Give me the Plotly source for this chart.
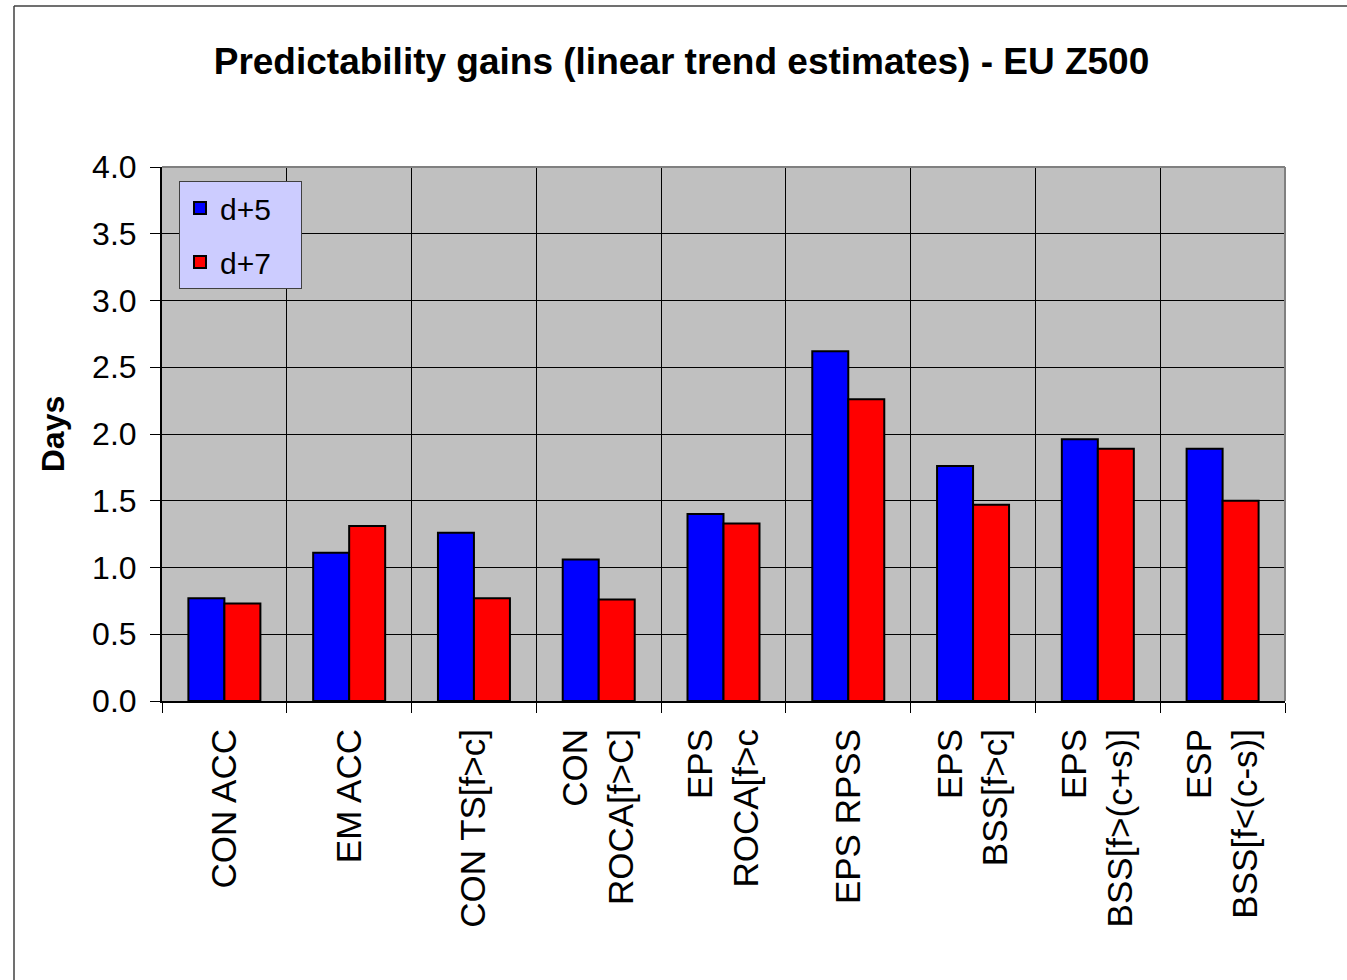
import plotly.graph_objects as go

categories = [
    "CON ACC",
    "EM ACC",
    "CON TS[f&gt;c]",
    "CON<br>ROCA[f&gt;C]",
    "EPS<br>ROCA[f&gt;c",
    "EPS RPSS",
    "EPS<br>BSS[f&gt;c]",
    "EPS<br>BSS[f&gt;(c+s)]",
    "ESP<br>BSS[f&lt;(c-s)]",
]
d5_values = [0.77, 1.11, 1.26, 1.06, 1.40, 2.62, 1.76, 1.96, 1.89]
d7_values = [0.73, 1.31, 0.77, 0.76, 1.33, 2.26, 1.47, 1.89, 1.50]
y_ticks = [0.0, 0.5, 1.0, 1.5, 2.0, 2.5, 3.0, 3.5, 4.0]

FONT = "Liberation Sans, Arial, sans-serif"

W, H = 1347, 980
L, R, T, B = 162, 62, 167, 279
pw, ph = W - L - R, H - T - B


def sx(px):
    """screen x pixel -> paper fraction"""
    return (px - L) / pw


def sy(py):
    """screen y pixel -> paper fraction"""
    return (H - B - py) / ph


fig = go.Figure()
fig.add_trace(go.Bar(name="d+5&nbsp;&nbsp;&nbsp;", x=categories, y=d5_values, legendgroup="a",
                     marker=dict(color="#0000FF", line=dict(color="black", width=2))))
fig.add_trace(go.Bar(name="d+7&nbsp;&nbsp;&nbsp;", x=categories, y=d7_values, legendgroup="b",
                     marker=dict(color="#FF0000", line=dict(color="black", width=2))))

fig.update_layout(
    width=W, height=H,
    margin=dict(l=L, r=R, t=T, b=B, autoexpand=False),
    paper_bgcolor="white",
    plot_bgcolor="#C0C0C0",
    barmode="group",
    bargap=0.423,
    bargroupgap=0,
    font=dict(family=FONT, color="black"),
    title=dict(
        text="<b>Predictability gains (linear trend estimates) - EU Z500</b>",
        x=681.5 / W, xref="container", xanchor="center",
        y=1 - 61 / H, yref="container", yanchor="middle",
        font=dict(size=37, family=FONT, color="black"),
    ),
    legend=dict(
        x=sx(179), y=sy(181),
        xanchor="left", yanchor="top",
        bgcolor="#CCCCFF", bordercolor="#404040", borderwidth=1,
        font=dict(size=30, family=FONT, color="black"),
        itemwidth=30,
        tracegroupgap=12,
    ),
    xaxis=dict(
        type="category",
        tickson="boundaries",
        ticks="outside", ticklen=10, tickcolor="black", tickwidth=1,
        showgrid=True, gridcolor="black", gridwidth=1,
        showline=True, linecolor="black", linewidth=2,
        tickangle=-90,
        tickfont=dict(size=35, family=FONT, color="black"),
        ticklabelstandoff=12,
        automargin=False,
    ),
    yaxis=dict(
        range=[0, 4],
        tickvals=y_ticks,
        tickformat=".1f",
        ticks="outside", ticklen=10, tickcolor="black", tickwidth=1,
        showgrid=True, gridcolor="black", gridwidth=1,
        zeroline=False,
        showline=True, linecolor="black", linewidth=2,
        tickfont=dict(size=32, family=FONT, color="black"),
        ticklabelstandoff=7,
        title=dict(text="<b>Days</b>", font=dict(size=32, family=FONT, color="black"), standoff=18),
        automargin=False,
    ),
    shapes=[
        # gray plot-area border (top and right)
        dict(type="line", xref="paper", yref="paper", x0=0, x1=1, y0=1, y1=1,
             line=dict(color="#808080", width=2), layer="above"),
        dict(type="line", xref="paper", yref="paper", x0=1, x1=1, y0=0, y1=1,
             line=dict(color="#808080", width=2), layer="above"),
        # outer chart frame (left and top edges visible)
        dict(type="line", xref="paper", yref="paper",
             x0=sx(14), x1=sx(14), y0=sy(1000), y1=sy(6),
             line=dict(color="#404040", width=1.5)),
        dict(type="line", xref="paper", yref="paper",
             x0=sx(14), x1=sx(1400), y0=sy(6), y1=sy(6),
             line=dict(color="#404040", width=1.5)),
    ],
)

# remove the browser's default 8px body margin so the figure sits at the page origin
fig.write_html(
    "out.html",
    config={"displayModeBar": False},
    post_script="document.body.style.margin='0px';",
)
